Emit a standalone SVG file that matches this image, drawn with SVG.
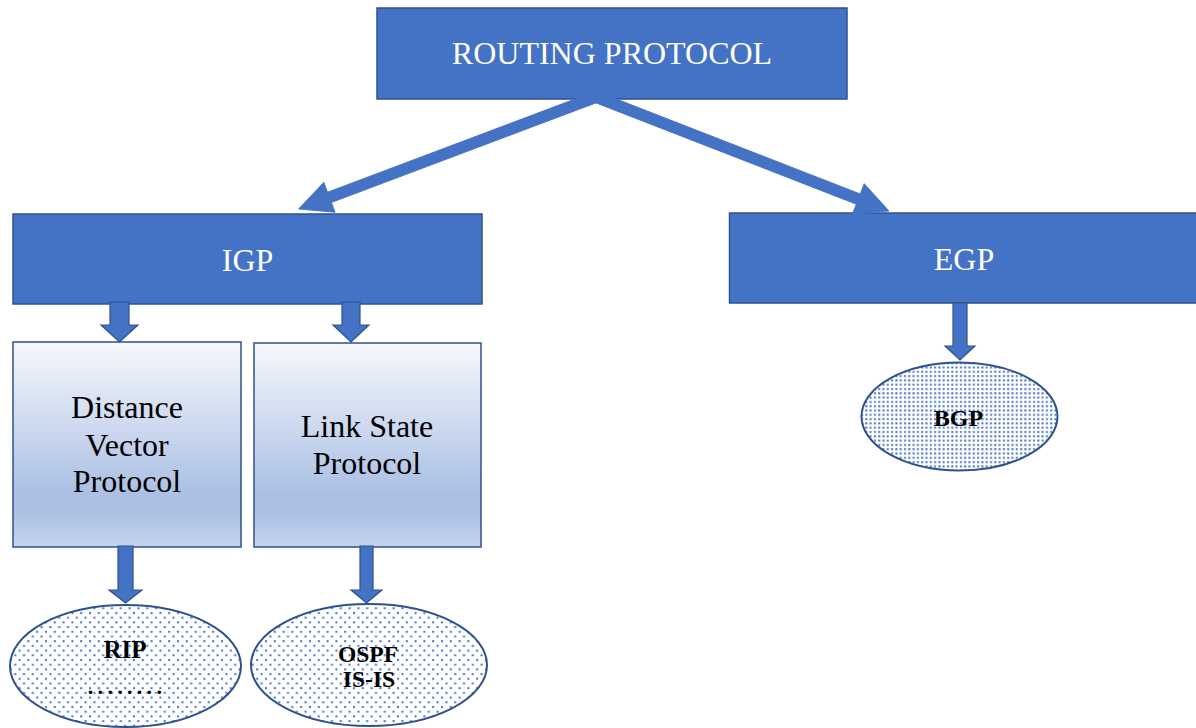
<svg xmlns="http://www.w3.org/2000/svg" width="1196" height="728" viewBox="0 0 1196 728">
  <style>
    .solid { fill: #4472C4; stroke: #2F528F; stroke-width: 1.5; }
    .grad { fill: url(#lightGrad); stroke: #2F528F; stroke-width: 1.5; }
    .oval { stroke: #2F528F; stroke-width: 2; }
    .arrow { fill: #4472C4; stroke: #2F528F; stroke-width: 1.2; }
    .big { fill: #4472C4; stroke: #4472C4; stroke-width: 0.8; }
    .wt { font-family: "Liberation Serif", "Times New Roman", serif; font-size: 32px; fill: #FFFFFF; text-anchor: middle; }
    .bk { font-family: "Liberation Serif", "Times New Roman", serif; font-size: 32px; fill: #000000; text-anchor: middle; }
    .bold { font-family: "Liberation Serif", "Times New Roman", serif; font-weight: bold; fill: #000000; text-anchor: middle; }
  </style>
  <defs>
    <linearGradient id="lightGrad" x1="0" y1="0" x2="0" y2="1">
      <stop offset="0" stop-color="#F6F8FC"/>
      <stop offset="0.74" stop-color="#ABC0E4"/>
      <stop offset="0.83" stop-color="#ABC0E4"/>
      <stop offset="1" stop-color="#C7D4ED"/>
    </linearGradient>
    <!-- sparse staggered dot fill -->
    <pattern id="dotsSparse" width="8.8" height="9.4" patternUnits="userSpaceOnUse">
      <rect width="8.8" height="9.4" fill="#FFFFFF"/>
      <rect x="1" y="1" width="2" height="2" fill="#4472C4"/>
      <rect x="5.4" y="5.7" width="2" height="2" fill="#4472C4"/>
    </pattern>
    <!-- dense dot fill -->
    <pattern id="dotsDense" width="4.3" height="4.3" patternUnits="userSpaceOnUse">
      <rect width="4.3" height="4.3" fill="#FFFFFF"/>
      <rect x="1" y="1" width="2" height="2" fill="#4472C4"/>
    </pattern>
  </defs>

  <rect width="1196" height="728" fill="#FFFFFF"/>

  <g id="routing-protocol">
    <rect class="solid" x="377" y="8" width="470" height="91"/>
    <text class="wt" x="612" y="64">ROUTING PROTOCOL</text>
  </g>

  <g id="igp">
    <rect class="solid" x="13" y="214" width="469" height="90"/>
    <text class="wt" x="247.5" y="271">IGP</text>
  </g>

  <g id="egp">
    <rect class="solid" x="729.5" y="213" width="470" height="90"/>
    <text class="wt" x="964" y="270">EGP</text>
  </g>

  <g id="distance-vector">
    <rect class="grad" x="13" y="342" width="228" height="205"/>
    <text class="bk" x="127" y="418">Distance</text>
    <text class="bk" x="127" y="456">Vector</text>
    <text class="bk" x="127" y="492">Protocol</text>
  </g>

  <g id="link-state">
    <rect class="grad" x="254" y="343" width="227" height="204"/>
    <text class="bk" x="367" y="437">Link State</text>
    <text class="bk" x="367" y="474">Protocol</text>
  </g>

  <g id="rip">
    <ellipse class="oval" cx="125.5" cy="666" rx="115.5" ry="61" fill="url(#dotsSparse)"/>
    <text class="bold" x="125" y="658" font-size="25">RIP</text>
    <text class="bold" x="127" y="694" font-size="22" letter-spacing="4.3">........</text>
  </g>

  <g id="ospf">
    <ellipse class="oval" cx="369" cy="665" rx="118" ry="61" fill="url(#dotsSparse)"/>
    <text class="bold" x="368" y="662" font-size="23.5">OSPF</text>
    <text class="bold" x="369" y="687" font-size="23.5">IS-IS</text>
  </g>

  <g id="bgp">
    <ellipse class="oval" cx="959.5" cy="416.5" rx="98" ry="54" fill="url(#dotsDense)"/>
    <text class="bold" x="958.5" y="426" font-size="24">BGP</text>
  </g>

  <g id="connectors">
    <!-- wide arrows from the root down to IGP and EGP -->
    <path class="big" transform="translate(596,97) rotate(159.37)" d="M0,-5.5 L284.8,-5.5 L284.8,-16 L317.8,0 L284.8,16 L284.8,5.5 L0,5.5 Z"/>
    <path class="big" transform="translate(596,97) rotate(21.26)" d="M0,-5.5 L281.4,-5.5 L281.4,-16.5 L314.4,0 L281.4,16.5 L281.4,5.5 L0,5.5 Z"/>
    <!-- short block arrows -->
    <path class="arrow" d="M110,302 H129 V325 H138 L119.5,342 L101,325 H110 Z"/>
    <path class="arrow" d="M342,302 H360 V325 H369 L351,342 L333,325 H342 Z"/>
    <path class="arrow" d="M118,546 H133 V590 H142 L125.5,603 L109,590 H118 Z"/>
    <path class="arrow" d="M360,546 H373 V590 H382 L366.5,603 L351,590 H360 Z"/>
    <path class="arrow" d="M953,303 H967 V346 H975 L960,360 L945,346 H953 Z"/>
  </g>
</svg>
